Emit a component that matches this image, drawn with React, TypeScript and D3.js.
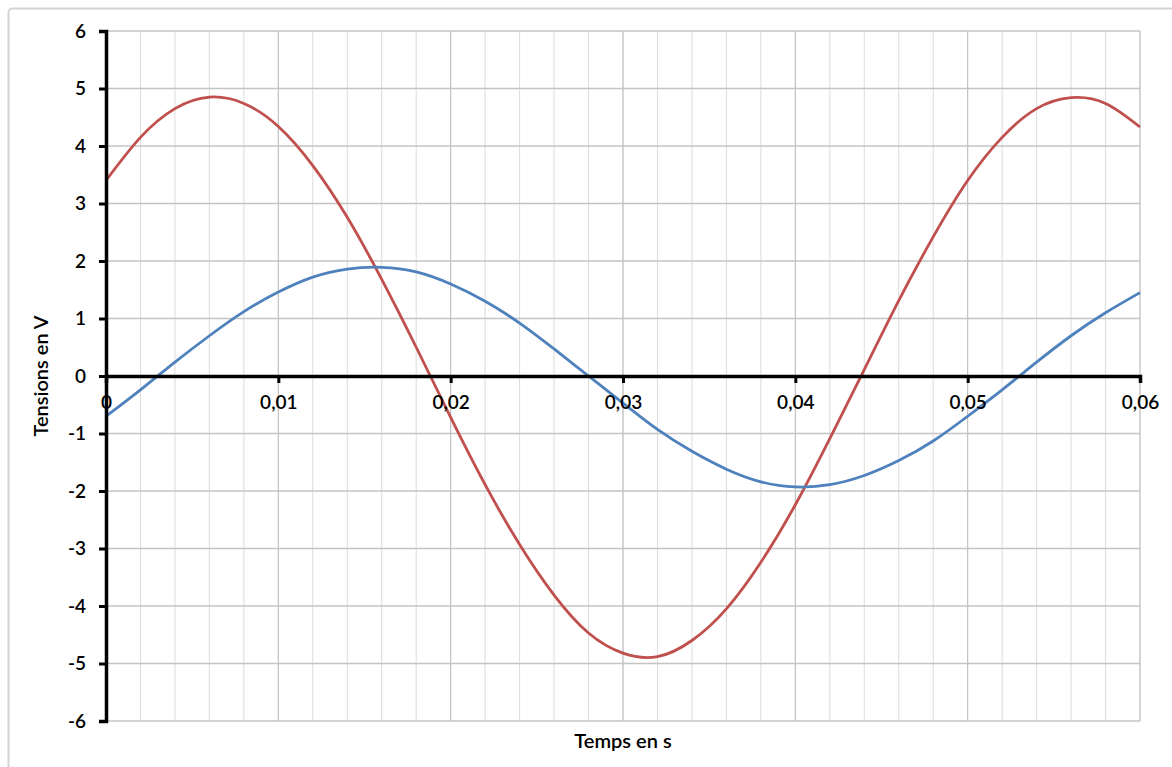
import React, { useEffect, useRef } from "react";
import * as d3 from "d3";

// temps en s (pas de 0,002 s)
const temps = [
  0, 0.002, 0.004, 0.006, 0.008, 0.01, 0.012, 0.014, 0.016, 0.018, 0.02,
  0.022, 0.024, 0.026, 0.028, 0.03, 0.032, 0.034, 0.036, 0.038, 0.04,
  0.042, 0.044, 0.046, 0.048, 0.05, 0.052, 0.054, 0.056, 0.058, 0.06,
];
// tension rouge (V)
const tensionRouge = [
  3.4, 4.15, 4.65, 4.85, 4.74, 4.34, 3.66, 2.76, 1.68, 0.5, -0.72,
  -1.89, -2.93, -3.81, -4.47, -4.82, -4.88, -4.6, -4.05, -3.24, -2.24,
  -1.09, 0.11, 1.31, 2.42, 3.4, 4.15, 4.65, 4.84, 4.74, 4.33,
];
// tension bleue (V)
const tensionBleue = [
  -0.7, -0.24, 0.24, 0.7, 1.12, 1.46, 1.72, 1.86, 1.89, 1.81, 1.6,
  1.3, 0.92, 0.47, 0.0, -0.47, -0.93, -1.31, -1.62, -1.84, -1.93,
  -1.89, -1.73, -1.47, -1.13, -0.7, -0.24, 0.24, 0.7, 1.1, 1.45,
];
const xTicks = [0, 0.01, 0.02, 0.03, 0.04, 0.05, 0.06];
const yTicks = [-6, -5, -4, -3, -2, -1, 0, 1, 2, 3, 4, 5, 6];

const W = 1172, H = 767;
const left = 106, right = 1140, top = 31, bottom = 721;
const font = "Lato, 'Open Sans', sans-serif";

export default function App() {
  const ref = useRef<SVGSVGElement>(null);

  useEffect(() => {
    const svg = d3.select(ref.current);
    svg.selectAll("*").remove();

    const x = d3.scaleLinear().domain([0, 0.06]).range([left, right]);
    const y = d3.scaleLinear().domain([-6, 6]).range([bottom, top]);

    // cadre extérieur
    svg.append("rect")
      .attr("x", 8.5).attr("y", 8.5)
      .attr("width", W + 20).attr("height", H + 20)
      .attr("rx", 4)
      .attr("fill", "white").attr("stroke", "#d4d4d4").attr("stroke-width", 2);

    // grille secondaire
    const minors = d3.range(0, 31).map((i) => i * 0.002);
    svg.append("g").selectAll("line").data(minors).join("line")
      .attr("x1", (d) => x(d)).attr("x2", (d) => x(d))
      .attr("y1", top).attr("y2", bottom)
      .attr("stroke", "#dcdcdc").attr("stroke-width", 1);

    // grille principale
    svg.append("g").selectAll("line").data(xTicks).join("line")
      .attr("x1", (d) => x(d)).attr("x2", (d) => x(d))
      .attr("y1", top).attr("y2", bottom)
      .attr("stroke", "#bdbdbd").attr("stroke-width", 1);
    svg.append("g").selectAll("line").data(yTicks).join("line")
      .attr("x1", left).attr("x2", right)
      .attr("y1", (d) => y(d)).attr("y2", (d) => y(d))
      .attr("stroke", "#c4c4c4").attr("stroke-width", 1.5);

    // courbes
    const line = d3.line<number>()
      .x((_, i) => x(temps[i]))
      .y((d) => y(d))
      .curve(d3.curveNatural);

    svg.append("path").datum(tensionRouge)
      .attr("d", line).attr("fill", "none")
      .attr("stroke", "#c0504d").attr("stroke-width", 2.8);
    svg.append("path").datum(tensionBleue)
      .attr("d", line).attr("fill", "none")
      .attr("stroke", "#4f81bd").attr("stroke-width", 2.8);

    // axes
    const xAxis = d3.axisBottom(x).tickValues(xTicks).tickSize(7)
      .tickFormat((d) => (d === 0 ? "0" : d3.format(".2f")(d as number).replace(".", ",")));
    const gx = svg.append("g").attr("transform", `translate(0,${y(0)})`).call(xAxis);
    gx.select(".domain").attr("stroke", "black").attr("stroke-width", 3.5);
    gx.selectAll(".tick line").attr("stroke", "black").attr("stroke-width", 3);
    gx.selectAll(".tick text")
      .attr("font-family", font).attr("font-size", 19).attr("font-weight", 600)
      .attr("fill", "#000").attr("y", 20).attr("dy", "0.71em");

    const yAxis = d3.axisLeft(y).tickValues(yTicks).tickSize(7)
      .tickFormat((d) => String(d));
    const gy = svg.append("g").attr("transform", `translate(${left},0)`).call(yAxis);
    gy.select(".domain").attr("stroke", "black").attr("stroke-width", 3.5);
    gy.selectAll(".tick line").attr("stroke", "black").attr("stroke-width", 3);
    gy.selectAll(".tick text")
      .attr("font-family", font).attr("font-size", 19).attr("font-weight", 600)
      .attr("fill", "#000").attr("x", -20);

    // titres
    svg.append("text")
      .attr("x", (left + right) / 2).attr("y", 748).attr("text-anchor", "middle")
      .attr("font-family", font).attr("font-size", 20).attr("font-weight", 600)
      .attr("fill", "#000").text("Temps en s");
    svg.append("text")
      .attr("transform", `translate(48,${(top + bottom) / 2}) rotate(-90)`)
      .attr("text-anchor", "middle")
      .attr("font-family", font).attr("font-size", 20).attr("font-weight", 600)
      .attr("fill", "#000").text("Tensions en V");
  }, []);

  return (
    <svg ref={ref} width={W} height={H}
      style={{ position: "absolute", left: 0, top: 0, display: "block" }} />
  );
}
